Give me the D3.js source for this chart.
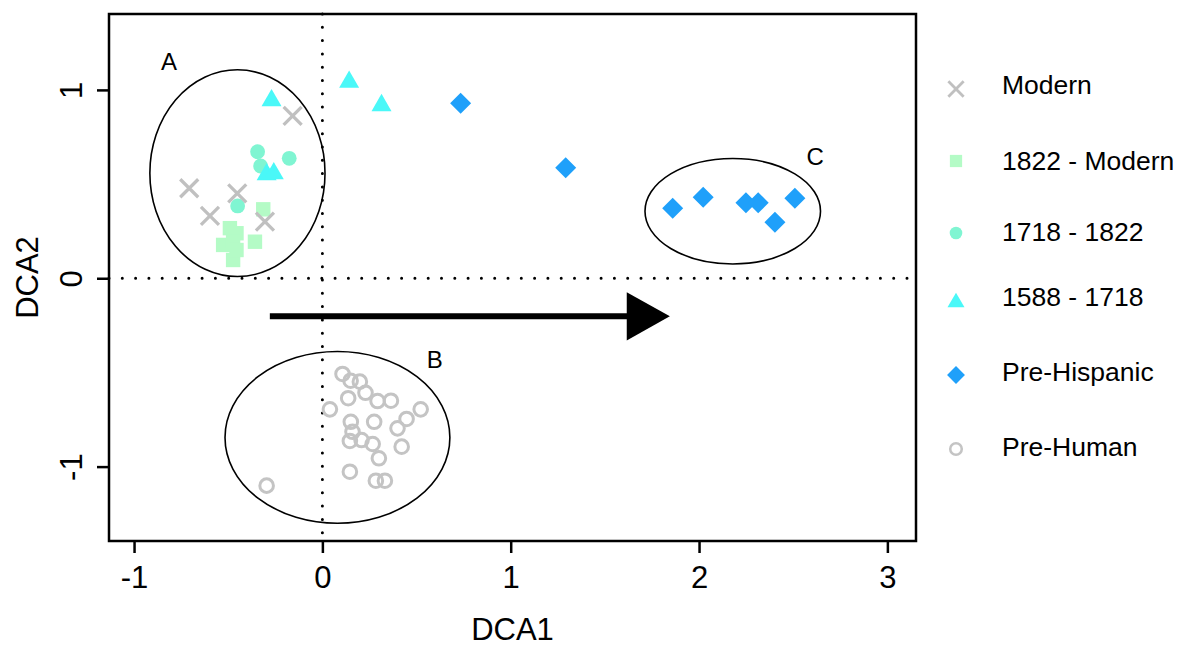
<!DOCTYPE html>
<html>
<head>
<meta charset="utf-8">
<script src="https://cdn.jsdelivr.net/npm/d3@7"></script>
<style>
  html, body { margin: 0; padding: 0; background: #fff; }
  svg { display: block; font-family: "Liberation Sans", Arial, Helvetica, sans-serif; }
</style>
</head>
<body>
<svg id="chart" width="1182" height="646"></svg>
<script>
// ---- Data ----
const seriesNames = ["Modern", "1822 - Modern", "1718 - 1822", "1588 - 1718", "Pre-Hispanic", "Pre-Human"];

const modernX = [-0.158, -0.707, -0.452, -0.597, -0.305];
const modernY = [0.862, 0.478, 0.451, 0.331, 0.301];

const p1822X = [-0.314, -0.491, -0.456, -0.527, -0.474, -0.358, -0.474, -0.456];
const p1822Y = [0.366, 0.266, 0.239, 0.177, 0.194, 0.194, 0.097, 0.150];

const p1718X = [-0.344, -0.176, -0.328, -0.450];
const p1718Y = [0.672, 0.637, 0.596, 0.384];

const p1588X = [-0.270, -0.296, -0.258, 0.142, 0.314];
const p1588Y = [0.959, 0.566, 0.571, 1.057, 0.933];

const preHispX = [0.734, 1.292, 1.860, 2.022, 2.249, 2.314, 2.403, 2.509];
const preHispY = [0.929, 0.587, 0.372, 0.430, 0.401, 0.401, 0.297, 0.425];

const preHumanX = [0.107, 0.150, 0.199, 0.229, 0.137, 0.293, 0.364, 0.040, 0.522, 0.447, 0.399, 0.151,
                   0.275, 0.160, 0.146, 0.208, 0.267, 0.421, 0.300, 0.146, 0.284, 0.332, -0.296];
const preHumanY = [-0.508, -0.544, -0.549, -0.608, -0.637, -0.652, -0.650, -0.696, -0.696, -0.747, -0.797, -0.762,
                   -0.762, -0.815, -0.864, -0.859, -0.880, -0.894, -0.956, -1.027, -1.075, -1.075, -1.101];

// ellipses: label, centre x, centre y, radius x, radius y (data units)
const ellipseLabels = ["A", "B", "C"];
const ellipseCX = [-0.451, 0.080, 2.179];
const ellipseCY = [0.558, -0.845, 0.356];
const ellipseRX = [0.465, 0.597, 0.466];
const ellipseRY = [0.549, 0.456, 0.280];
const labelX = [-0.815, 0.597, 2.616];
const labelY = [1.149, -0.434, 0.644];

// arrow (data units)
const arrowStart = [-0.279, -0.202];
const arrowBase = 1.616;
const arrowTip = 1.845;
const arrowHalf = 0.128;

const xTicks = [-1, 0, 1, 2, 3];
const yTicks = [-1, 0, 1];
const xTitle = "DCA1";
const yTitle = "DCA2";

// ---- Layout ----
const svg = d3.select("#chart");
const box = { left: 109, right: 916, top: 14, bottom: 541 };
const x = d3.scaleLinear().domain([-1.133, 3.152]).range([box.left, box.right]);
const y = d3.scaleLinear().domain([-1.395, 1.403]).range([box.bottom, box.top]);

const colors = {
  modern: "#c0c0c0",
  p1822: "#b4fbc6",
  p1718: "#80f5d2",
  p1588: "#4af8f8",
  preHisp: "#1fa0fa",
  preHuman: "#c4c4c4"
};

// dotted zero lines
const g = svg.append("g");
g.append("line")
  .attr("x1", x(0)).attr("x2", x(0)).attr("y1", box.top).attr("y2", box.bottom)
  .attr("stroke", "#000").attr("stroke-width", 3).attr("stroke-linecap", "round")
  .attr("stroke-dasharray", "0,13.3");
g.append("line")
  .attr("x1", box.left).attr("x2", box.right).attr("y1", y(0)).attr("y2", y(0))
  .attr("stroke", "#000").attr("stroke-width", 3).attr("stroke-linecap", "round")
  .attr("stroke-dasharray", "0,13.3");

// ellipses
ellipseLabels.forEach((lab, i) => {
  g.append("ellipse")
    .attr("cx", x(ellipseCX[i])).attr("cy", y(ellipseCY[i]))
    .attr("rx", x(ellipseRX[i]) - x(0)).attr("ry", y(0) - y(ellipseRY[i]))
    .attr("fill", "none").attr("stroke", "#000").attr("stroke-width", 1.6);
  g.append("text")
    .attr("x", x(labelX[i])).attr("y", y(labelY[i]) + 8.5)
    .attr("text-anchor", "middle").attr("font-size", 24).attr("fill", "#000")
    .text(lab);
});

// arrow
g.append("line")
  .attr("x1", x(arrowStart[0])).attr("x2", x(arrowBase) + 2)
  .attr("y1", y(arrowStart[1])).attr("y2", y(arrowStart[1]))
  .attr("stroke", "#000").attr("stroke-width", 6);
g.append("path")
  .attr("d", `M${x(arrowBase)},${y(arrowStart[1] + arrowHalf)} L${x(arrowTip)},${y(arrowStart[1])} L${x(arrowBase)},${y(arrowStart[1] - arrowHalf)} Z`)
  .attr("fill", "#000");

// marker drawing helpers
function drawMarker(sel, type, cx, cy, scale) {
  const s = scale || 1;
  if (type === "x") {
    const h = 9 * s;
    sel.append("path")
      .attr("d", `M${cx - h},${cy - h}L${cx + h},${cy + h}M${cx - h},${cy + h}L${cx + h},${cy - h}`)
      .attr("stroke", colors.modern).attr("stroke-width", 3.3 * s).attr("fill", "none");
  } else if (type === "square") {
    const h = 7.2 * s;
    sel.append("rect").attr("x", cx - h).attr("y", cy - h).attr("width", 2 * h).attr("height", 2 * h)
      .attr("fill", colors.p1822);
  } else if (type === "circle") {
    sel.append("circle").attr("cx", cx).attr("cy", cy).attr("r", 7.4 * s).attr("fill", colors.p1718);
  } else if (type === "triangle") {
    const side = 20 * s, hgt = side * Math.sqrt(3) / 2;
    sel.append("path")
      .attr("d", `M${cx},${cy - hgt / 2}L${cx + side / 2},${cy + hgt / 2}L${cx - side / 2},${cy + hgt / 2}Z`)
      .attr("fill", colors.p1588);
  } else if (type === "diamond") {
    const h = 10.5 * s;
    sel.append("path")
      .attr("d", `M${cx},${cy - h}L${cx + h},${cy}L${cx},${cy + h}L${cx - h},${cy}Z`)
      .attr("fill", colors.preHisp);
  } else if (type === "open") {
    sel.append("circle").attr("cx", cx).attr("cy", cy).attr("r", 6.8 * s)
      .attr("fill", "none").attr("stroke", colors.preHuman).attr("stroke-width", 3 * s);
  }
}

const pts = g.append("g");
preHumanX.forEach((v, i) => drawMarker(pts, "open", x(v), y(preHumanY[i])));
p1822X.forEach((v, i) => drawMarker(pts, "square", x(v), y(p1822Y[i])));
p1718X.forEach((v, i) => drawMarker(pts, "circle", x(v), y(p1718Y[i])));
modernX.forEach((v, i) => drawMarker(pts, "x", x(v), y(modernY[i])));
p1588X.forEach((v, i) => drawMarker(pts, "triangle", x(v), y(p1588Y[i])));
preHispX.forEach((v, i) => drawMarker(pts, "diamond", x(v), y(preHispY[i])));

// plot box
svg.append("rect")
  .attr("x", box.left).attr("y", box.top)
  .attr("width", box.right - box.left).attr("height", box.bottom - box.top)
  .attr("fill", "none").attr("stroke", "#000").attr("stroke-width", 2.5);

// axes
const xAxis = d3.axisBottom(x).tickValues(xTicks).tickSize(12).tickPadding(0).tickFormat(d => String(d));
const xg = svg.append("g").attr("transform", `translate(0,${box.bottom})`).call(xAxis);
xg.select(".domain").remove();
xg.selectAll(".tick line").attr("stroke", "#000").attr("stroke-width", 2.5);
xg.selectAll(".tick text").attr("font-size", 31).attr("font-family", "Liberation Sans, Arial, sans-serif")
  .attr("fill", "#000").attr("dy", null).attr("y", 47);

const yAxis = d3.axisLeft(y).tickValues(yTicks).tickSize(12).tickFormat(d => String(d));
const yg = svg.append("g").attr("transform", `translate(${box.left},0)`).call(yAxis);
yg.select(".domain").remove();
yg.selectAll(".tick line").attr("stroke", "#000").attr("stroke-width", 2.5);
yg.selectAll(".tick text").attr("font-size", 31).attr("font-family", "Liberation Sans, Arial, sans-serif")
  .attr("fill", "#000").attr("dy", null).attr("x", null)
  .attr("text-anchor", "middle")
  .attr("transform", `translate(${82 - box.left},0) rotate(-90)`);

svg.append("text")
  .attr("x", (box.left + box.right) / 2).attr("y", 640)
  .attr("text-anchor", "middle").attr("font-size", 31).attr("fill", "#000").text(xTitle);
svg.append("text")
  .attr("transform", `translate(38,${(box.top + box.bottom) / 2}) rotate(-90)`)
  .attr("text-anchor", "middle").attr("font-size", 31).attr("fill", "#000").text(yTitle);

// legend
const legendTypes = ["x", "square", "circle", "triangle", "diamond", "open"];
const legendSymY = [89, 161, 233, 300, 375, 449];
const legendTextY = [93.5, 169.5, 241, 306, 381, 456];
const leg = svg.append("g");
seriesNames.forEach((name, i) => {
  drawMarker(leg, legendTypes[i], 956, legendSymY[i], 0.85);
  leg.append("text").attr("x", 1002).attr("y", legendTextY[i])
    .attr("font-size", 26.5).attr("fill", "#000").text(name);
});
</script>
</body>
</html>
